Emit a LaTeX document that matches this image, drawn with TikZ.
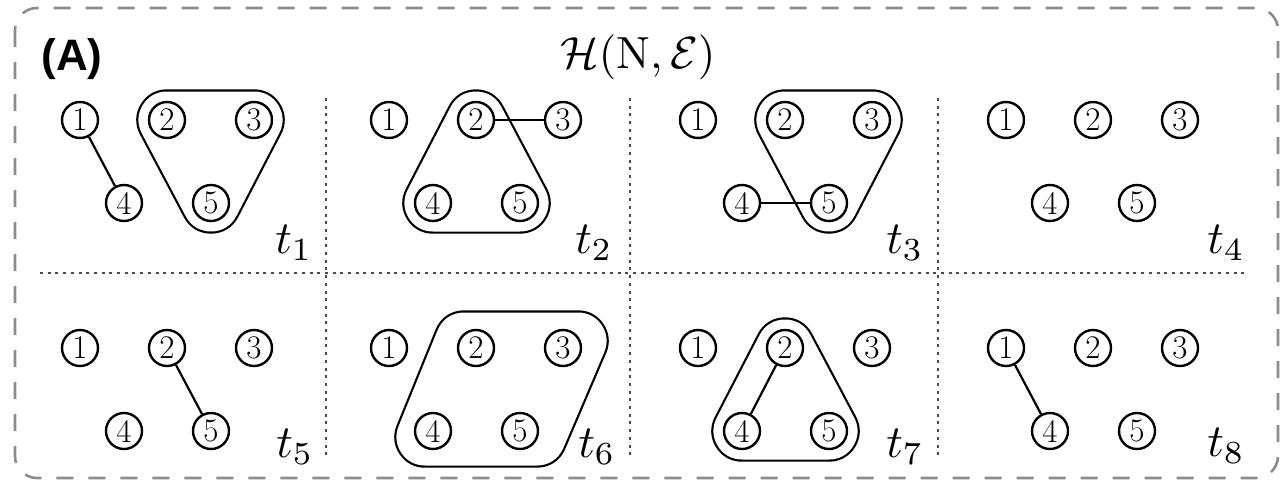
\documentclass[tikz,border=0pt]{standalone}
\usepackage{fontspec}
\newfontfamily\panelfont{Liberation Sans}
\usetikzlibrary{calc}
\pgfdeclarelayer{hyper}
\pgfsetlayers{hyper,main}

\tikzset{
  vtx/.style={circle, draw, line width=2.4pt, minimum size=36pt, inner sep=0pt,
    font=\fontsize{33}{33}\selectfont},
  link/.style={line width=2.2pt},
  hyperedge/.style={draw, line width=2.2pt, double=white, double distance=57pt, line join=round},
  gridline/.style={draw=black!70, line width=2.6pt, dash pattern=on 3pt off 4.7pt},
  frame/.style={draw=black!45, line width=2.6pt, dash pattern=on 17pt off 15pt, rounded corners=22pt},
  tlabel/.style={scale=4.6, inner sep=0pt},
}

% the five vertices of one time slice: prefix, left x, top-row y
\newcommand\fivenodes[3]{%
  \node[vtx] (#1-1) at (#2,#3) {1};
  \node[vtx] (#1-2) at (#2+87,#3) {2};
  \node[vtx] (#1-3) at (#2+174,#3) {3};
  \node[vtx] (#1-4) at (#2+44,#3+83) {4};
  \node[vtx] (#1-5) at (#2+131,#3+83) {5};
}

\begin{document}
\begin{tikzpicture}[x=1pt,y=-1pt]
\useasboundingbox (0,0) rectangle (1283,483);

% outer frame
\draw[frame] (15,8) rectangle (1278,478);

% headings
\node[inner sep=0pt, font=\panelfont\bfseries\fontsize{44}{44}\selectfont] (tag) at (72,59) {(A)};
\node[inner sep=0pt, scale=4.5] (title) at (638,57)
  {$\mathcal{H}(\mathrm{N},\mathcal{E})$};

% separators between the time slices
\coordinate (hl) at (40,273);
\coordinate (hr) at (1247,273);
\draw[gridline] (hl) -- (hr);
\foreach \x [count=\i] in {326,630,938} {
  \coordinate (vt\i) at (\x,98);
  \coordinate (vb\i) at (\x,455);
  \draw[gridline] (vt\i) -- (vb\i);
}

% vertices
\fivenodes{t1}{80}{120}
\fivenodes{t2}{389}{120}
\fivenodes{t3}{698}{120}
\fivenodes{t4}{1006}{120}
\fivenodes{t5}{80}{348}
\fivenodes{t6}{389}{348}
\fivenodes{t7}{698}{348}
\fivenodes{t8}{1006}{348}

% hyperedges
\begin{pgfonlayer}{hyper}
  \draw[hyperedge] (t1-2.center) -- (t1-3.center) -- (t1-5.center) -- cycle;
  \fill[white] (t1-2.center) -- (t1-3.center) -- (t1-5.center) -- cycle;
  \draw[hyperedge] (t2-2.center) -- (t2-5.center) -- (t2-4.center) -- cycle;
  \fill[white] (t2-2.center) -- (t2-5.center) -- (t2-4.center) -- cycle;
  \draw[hyperedge] (t3-2.center) -- (t3-3.center) -- (t3-5.center) -- cycle;
  \fill[white] (t3-2.center) -- (t3-3.center) -- (t3-5.center) -- cycle;
  \draw[hyperedge] (t7-2.center) -- (t7-5.center) -- (t7-4.center) -- cycle;
  \fill[white] (t7-2.center) -- (t7-5.center) -- (t7-4.center) -- cycle;
  \coordinate (q1) at ($(t6-2.center)+(-12,-7)$);
  \coordinate (q2) at ($(t6-3.center)+(15,-7)$);
  \coordinate (q3) at ($(t6-5.center)+(17,6)$);
  \coordinate (q4) at ($(t6-4.center)+(-8,6)$);
  \draw[hyperedge] (q1) -- (q2) -- (q3) -- (q4) -- cycle;
  \fill[white] (q1) -- (q2) -- (q3) -- (q4) -- cycle;
\end{pgfonlayer}

% pairwise links
\draw[link] (t1-1) -- (t1-4);
\draw[link] (t2-2) -- (t2-3);
\draw[link] (t3-4) -- (t3-5);
\draw[link] (t5-2) -- (t5-5);
\draw[link] (t7-2) -- (t7-4);
\draw[link] (t8-1) -- (t8-4);

% time stamps
\node[tlabel] (s1) at (294,243) {$t_1$};
\node[tlabel] (s2) at (594,243) {$t_2$};
\node[tlabel] (s3) at (905,243) {$t_3$};
\node[tlabel] (s4) at (1226,243) {$t_4$};
\node[tlabel] (s5) at (295,447) {$t_5$};
\node[tlabel] (s6) at (597,447) {$t_6$};
\node[tlabel] (s7) at (905,447) {$t_7$};
\node[tlabel] (s8) at (1226,446) {$t_8$};
\end{tikzpicture}
\end{document}
